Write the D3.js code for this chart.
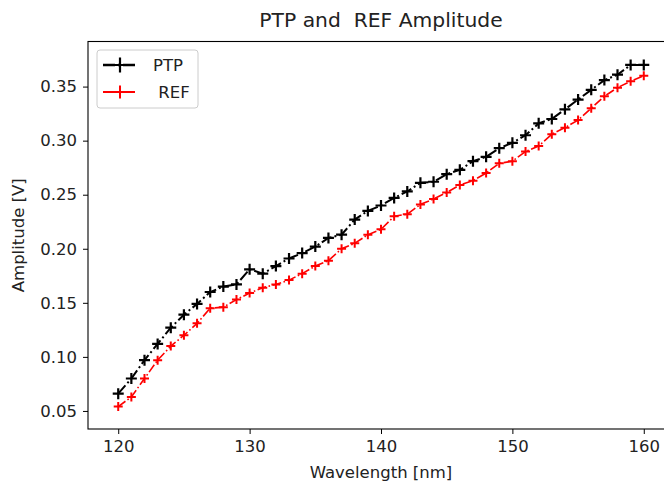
<!DOCTYPE html>
<html>
<head>
<meta charset="utf-8">
<script src="https://cdn.jsdelivr.net/npm/d3@7"></script>
<style>
  html, body { margin: 0; padding: 0; background: #fff; }
  svg { display: block; font-family: "DejaVu Sans", sans-serif; }
</style>
</head>
<body>
<svg id="chart" width="664" height="482"></svg>
<script>
// ---- data ----
const wavelengths = d3.range(120, 161, 1);
const ptpValues = [0.066, 0.080, 0.097, 0.112, 0.127, 0.139, 0.149, 0.160, 0.165, 0.167,
  0.181, 0.177, 0.184, 0.191, 0.196, 0.202, 0.210, 0.213, 0.227, 0.235,
  0.240, 0.247, 0.253, 0.261, 0.262, 0.269, 0.273, 0.281, 0.285, 0.293,
  0.298, 0.305, 0.316, 0.320, 0.329, 0.338, 0.347, 0.356, 0.361, 0.370, 0.370];
const refValues = [0.054, 0.063, 0.080, 0.097, 0.110, 0.120, 0.131, 0.145, 0.146, 0.153,
  0.159, 0.164, 0.167, 0.171, 0.177, 0.184, 0.189, 0.200, 0.205, 0.213,
  0.218, 0.230, 0.232, 0.241, 0.246, 0.252, 0.259, 0.263, 0.270, 0.279,
  0.281, 0.290, 0.295, 0.306, 0.312, 0.319, 0.330, 0.341, 0.349, 0.355, 0.360];
const xTicks = [120, 130, 140, 150, 160];
const yTicks = [0.05, 0.10, 0.15, 0.20, 0.25, 0.30, 0.35];
const seriesNames = ["PTP", " REF"];
const titleText = "PTP and  REF Amplitude";
const xLabel = "Wavelength [nm]";
const yLabel = "Amplitude [V]";

// ---- layout ----
const mLeft = 88, mRight = 674, mTop = 41.5, mBottom = 429;
const svg = d3.select("#chart");
const x = d3.scaleLinear().domain([117.7, 162.3]).range([mLeft, mRight]);
const y = d3.scaleLinear().domain([0.0333, 0.3917]).range([mBottom, mTop]);

const fontSize = 16.5;

// axes
const xAxis = d3.axisBottom(x).tickValues(xTicks).tickFormat(d3.format("d")).tickSize(5).tickPadding(6);
const yAxis = d3.axisLeft(y).tickValues(yTicks).tickFormat(d3.format(".2f")).tickSize(5).tickPadding(6);

const gx = svg.append("g").attr("transform", `translate(0,${mBottom})`).call(xAxis);
const gy = svg.append("g").attr("transform", `translate(${mLeft},0)`).call(yAxis);
[gx, gy].forEach(g => {
  g.select(".domain").remove();
  g.selectAll(".tick line").attr("stroke", "#000").attr("stroke-width", 1);
  g.selectAll(".tick text").attr("fill", "#222").style("font-size", fontSize + "px")
    .style("font-family", "DejaVu Sans, sans-serif");
});

// spines
svg.append("rect").attr("x", mLeft).attr("y", mTop).attr("width", mRight - mLeft).attr("height", mBottom - mTop)
  .attr("fill", "none").attr("stroke", "#000").attr("stroke-width", 1.1);

// series
const series = [
  { name: seriesNames[0], values: ptpValues, color: "#000", lw: 2, dash: "11,3,2,3", ms: 5.5, mw: 2.2 },
  { name: seriesNames[1], values: refValues, color: "#f00", lw: 1.6, dash: "9,2.5,1.6,2.5", ms: 4.5, mw: 2 }
];

const line = d3.line().x((d, i) => x(wavelengths[i])).y(d => y(d));
const plot = svg.append("g");
series.forEach(s => {
  plot.append("path").datum(s.values).attr("d", line)
    .attr("fill", "none").attr("stroke", s.color).attr("stroke-width", s.lw)
    .attr("stroke-dasharray", s.dash);
  plot.append("g").selectAll("path").data(s.values).join("path")
    .attr("d", (d, i) => {
      const cx = x(wavelengths[i]), cy = y(d);
      return `M${cx - s.ms},${cy}H${cx + s.ms}M${cx},${cy - s.ms}V${cy + s.ms}`;
    })
    .attr("stroke", s.color).attr("stroke-width", s.mw).attr("fill", "none");
});

// title & labels
svg.append("text").attr("x", (mLeft + mRight) / 2).attr("y", 27).attr("text-anchor", "middle")
  .style("font-size", "20.3px").attr("fill", "#222").style("white-space", "pre").text(titleText);
svg.append("text").attr("x", (mLeft + mRight) / 2).attr("y", 478).attr("text-anchor", "middle")
  .style("font-size", fontSize + "px").attr("fill", "#222").text(xLabel);
svg.append("text").attr("transform", `translate(24,${(mTop + mBottom) / 2}) rotate(-90)`)
  .attr("text-anchor", "middle").style("font-size", fontSize + "px").attr("fill", "#222").text(yLabel);

// legend
const lg = svg.append("g");
lg.append("rect").attr("x", 97).attr("y", 50).attr("width", 101).attr("height", 58).attr("rx", 3)
  .attr("fill", "#fff").attr("fill-opacity", 0.8).attr("stroke", "#ccc").attr("stroke-width", 1);
series.forEach((s, i) => {
  const ly = 65 + i * 27;
  lg.append("line").attr("x1", 103).attr("x2", 137).attr("y1", ly).attr("y2", ly)
    .attr("stroke", s.color).attr("stroke-width", s.lw + 0.3).attr("stroke-dasharray", "12,3,2,3");
  const ms = s.ms + 2;
  lg.append("path").attr("d", `M${120 - ms},${ly}H${120 + ms}M120,${ly - ms}V${ly + ms}`)
    .attr("stroke", s.color).attr("stroke-width", s.mw).attr("fill", "none");
  lg.append("text").attr("x", 153).attr("y", ly).attr("dy", "0.36em")
    .style("font-size", fontSize + "px").attr("fill", "#222")
    .style("white-space", "pre").text(s.name);
});
</script>
</body>
</html>
